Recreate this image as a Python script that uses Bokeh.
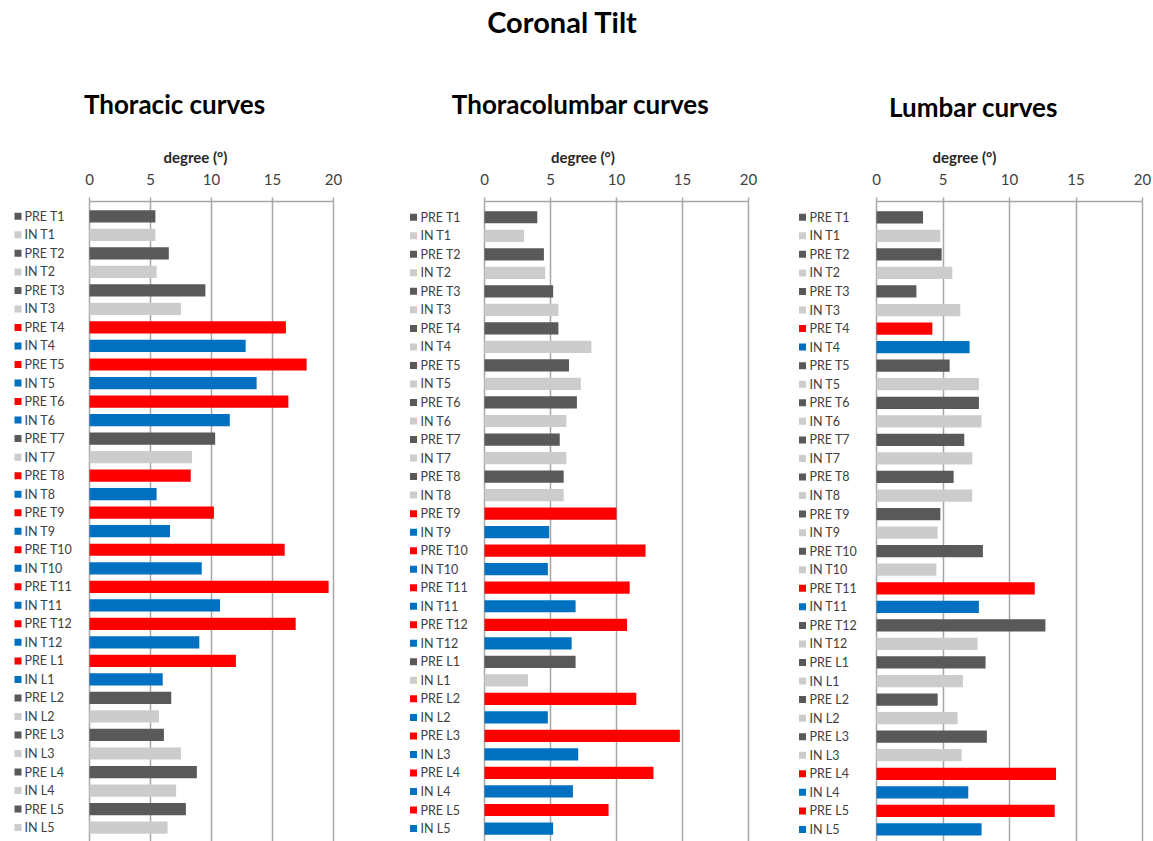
from bokeh.plotting import figure
from bokeh.layouts import column, row
from bokeh.models import Range1d, FixedTicker, ColumnDataSource
from bokeh.core.properties import value
from bokeh.embed import file_html
from bokeh.resources import INLINE

# Levels, each measured before (PRE) and during (IN) the procedure
levels = ["T1", "T2", "T3", "T4", "T5", "T6", "T7", "T8", "T9", "T10",
          "T11", "T12", "L1", "L2", "L3", "L4", "L5"]
categories = [f"{stage} {lv}" for lv in levels for stage in ("PRE", "IN")]

# Coronal tilt in degrees, in the order of `categories`
thoracic = [5.4, 5.4, 6.5, 5.5, 9.5, 7.5, 16.1, 12.8, 17.8, 13.7, 16.3, 11.5,
            10.3, 8.4, 8.3, 5.5, 10.2, 6.6, 16.0, 9.2, 19.6, 10.7, 16.9, 9.0,
            12.0, 6.0, 6.7, 5.7, 6.1, 7.5, 8.8, 7.1, 7.9, 6.4]
thoracolumbar = [4.0, 3.0, 4.5, 4.6, 5.2, 5.6, 5.6, 8.1, 6.4, 7.3, 7.0, 6.2,
                 5.7, 6.2, 6.0, 6.0, 10.0, 4.9, 12.2, 4.8, 11.0, 6.9, 10.8, 6.6,
                 6.9, 3.3, 11.5, 4.8, 14.8, 7.1, 12.8, 6.7, 9.4, 5.2]
lumbar = [3.5, 4.8, 4.9, 5.7, 3.0, 6.3, 4.2, 7.0, 5.5, 7.7, 7.7, 7.9,
          6.6, 7.2, 5.8, 7.2, 4.8, 4.6, 8.0, 4.5, 11.9, 7.7, 12.7, 7.6,
          8.2, 6.5, 4.6, 6.1, 8.3, 6.4, 13.5, 6.9, 13.4, 7.9]

# Levels inside the curve of each group
thoracic_curve = ["T4", "T5", "T6", "T8", "T9", "T10", "T11", "T12", "L1"]
thoracolumbar_curve = ["T9", "T10", "T11", "T12", "L2", "L3", "L4", "L5"]
lumbar_curve = ["T4", "T11", "L4", "L5"]

panel_titles = ["Thoracic curves", "Thoracolumbar curves", "Lumbar curves"]
main_title = "Coronal Tilt"
x_ticks = [0, 5, 10, 15, 20]

FONT = "Lato"
DARK, LIGHT, RED, BLUE = "#595959", "#cccccc", "#ff0000", "#0070c0"
TEXT = "#404040"
GRID = "#a6a6a6"

PANEL_H = 716
HEAD_H = 125


def bar_colors(curve):
    out = []
    for lv in levels:
        inside = lv in curve
        out.append(RED if inside else DARK)
        out.append(BLUE if inside else LIGHT)
    return out


def make_panel(values, curve, width, zero_px, twenty_px, top_px, pad_top, pad_bot,
               square_px, label_px):
    scale = (twenty_px - zero_px) / 20.0
    x0 = -zero_px / scale
    x1 = x0 + width / scale
    n = len(categories)
    p = figure(width=width, height=PANEL_H,
               x_range=Range1d(x0, x1),
               y_range=Range1d(n - 1 + pad_bot, -pad_top),
               x_axis_location="above", y_axis_location=None,
               output_backend="svg", toolbar_location=None,
               min_border_left=0, min_border_right=0,
               min_border_top=top_px, min_border_bottom=0)
    p.outline_line_color = None
    p.background_fill_color = "white"
    p.border_fill_color = "white"
    p.ygrid.visible = False
    p.xgrid.ticker = FixedTicker(ticks=x_ticks)
    p.xgrid.grid_line_color = GRID
    p.xgrid.grid_line_width = 1.5

    ax = p.xaxis[0]
    ax.ticker = FixedTicker(ticks=x_ticks)
    ax.bounds = (0, 20)
    ax.axis_line_color = GRID
    ax.axis_line_width = 1.5
    ax.major_tick_line_color = GRID
    ax.major_tick_line_width = 1.5
    ax.major_tick_out = 4
    ax.major_tick_in = 0
    ax.minor_tick_line_color = None
    ax.major_label_text_font = FONT
    ax.major_label_text_font_size = "15px"
    ax.major_label_text_color = TEXT
    ax.major_label_standoff = 13
    ax.axis_label = "degree (°)"
    ax.axis_label_text_font = FONT
    ax.axis_label_text_font_style = "bold"
    ax.axis_label_text_font_size = "15px"
    ax.axis_label_text_color = "#262626"
    ax.axis_label_standoff = 5

    idx = list(range(n))
    cols = bar_colors(curve)
    src = ColumnDataSource(dict(y=idx, v=values, c=cols, cat=categories,
                                sx=[(square_px - zero_px) / scale] * n,
                                tx=[(label_px - zero_px) / scale] * n))
    p.hbar(y="y", left=0, right="v", height=0.66, fill_color="c",
           line_color=None, source=src)
    p.scatter(x="sx", y="y", marker="square", size=7, fill_color="c",
              line_color=None, source=src)
    p.text(x="tx", y="y", text="cat", source=src, text_font=value(FONT),
           text_font_size="12.5px", text_color=TEXT, text_baseline="middle",
           text_align="left")
    return p


# Header with the overall title and the three group titles
head = figure(width=1153, height=HEAD_H, x_range=Range1d(0, 1153),
              y_range=Range1d(HEAD_H, 0), x_axis_location=None,
              y_axis_location=None, output_backend="svg", toolbar_location=None,
              min_border=0)
head.outline_line_color = None
head.xgrid.visible = False
head.ygrid.visible = False
head.text(x=[562], y=[21], text=[main_title], text_font=value(FONT),
          text_font_style="bold", text_font_size="29px", text_color="black",
          text_align="center", text_baseline="middle")
head.text(x=[174, 580, 973], y=[103, 103, 106], text=panel_titles,
          text_font=value(FONT), text_font_style="bold", text_font_size="26px",
          text_color="black", text_align="center", text_baseline="middle")

p1 = make_panel(thoracic, thoracic_curve, 390, 89, 333, 199 - HEAD_H, 0.8, 0.75,
                17.5, 24)
p2 = make_panel(thoracolumbar, thoracolumbar_curve, 385, 94, 358, 199 - HEAD_H,
                0.85, 0.7, 23, 30)
p3 = make_panel(lumbar, lumbar_curve, 378, 101, 367, 201 - HEAD_H, 0.85, 0.65,
                27, 34)

layout = column(head, row(p1, p2, p3, spacing=0), spacing=0)
open("out.html", "w").write(file_html(layout, INLINE))
